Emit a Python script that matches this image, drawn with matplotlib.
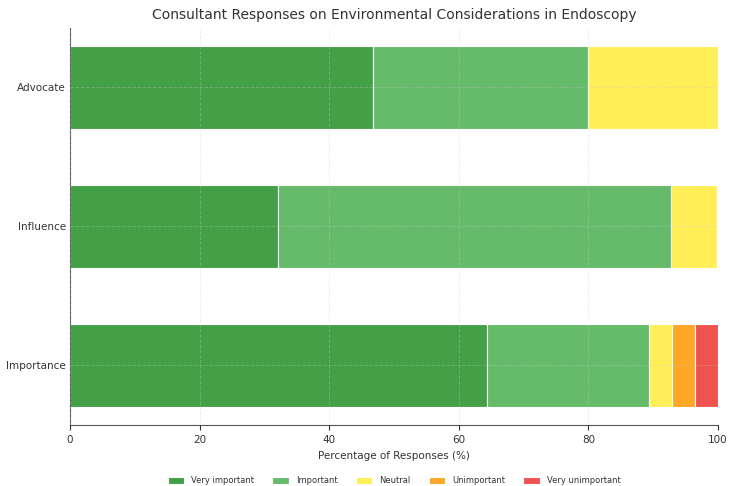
import matplotlib.pyplot as plt
import numpy as np

# --- Data (percent of responses) ---
questions = ["Importance", "Influence", "Advocate"]
categories = ["Very important", "Important", "Neutral", "Unimportant", "Very unimportant"]
very_important = [64.3, 32.1, 46.7]
important = [25.0, 60.7, 33.3]
neutral = [3.6, 7.1, 20.0]
unimportant = [3.6, 0.0, 0.0]
very_unimportant = [3.5, 0.0, 0.0]

colors = ["#43A047", "#66BB6A", "#FFEE58", "#FFA726", "#EF5350"]

series = [very_important, important, neutral, unimportant, very_unimportant]

fig, ax = plt.subplots(figsize=(7.29, 4.86), dpi=100)

y = np.arange(len(questions))
left = np.zeros(len(questions))
for name, vals, col in zip(categories, series, colors):
    vals = np.array(vals)
    ax.barh(y, vals, left=left, height=0.6, color=col, edgecolor="white",
            linewidth=0.8, label=name)
    left += vals

ax.set_yticks(y)
ax.set_yticklabels(questions, fontsize=7.5, color="#333333")
ax.set_xlim(0, 100)
ax.tick_params(axis="x", labelsize=7.5, colors="#333333")
ax.tick_params(axis="y", length=0, pad=3)
ax.set_xlabel("Percentage of Responses (%)", fontsize=7.5, color="#333333")
ax.set_title("Consultant Responses on Environmental Considerations in Endoscopy",
             fontsize=10, color="#333333")

ax.grid(True, linestyle="--", color="#cccccc", alpha=0.3, linewidth=0.7)
ax.set_axisbelow(False)
for s in ["top", "right"]:
    ax.spines[s].set_visible(False)
for s in ["left", "bottom"]:
    ax.spines[s].set_color("#555555")

ax.legend(loc="center", bbox_to_anchor=(0.5, -0.14), ncol=5, frameon=False,
          fontsize=6, handlelength=2.0, handleheight=0.8, columnspacing=2.2,
          labelcolor="#333333")

fig.subplots_adjust(left=0.096, right=0.985, top=0.943, bottom=0.125)
fig.savefig("out.png", dpi=100)
